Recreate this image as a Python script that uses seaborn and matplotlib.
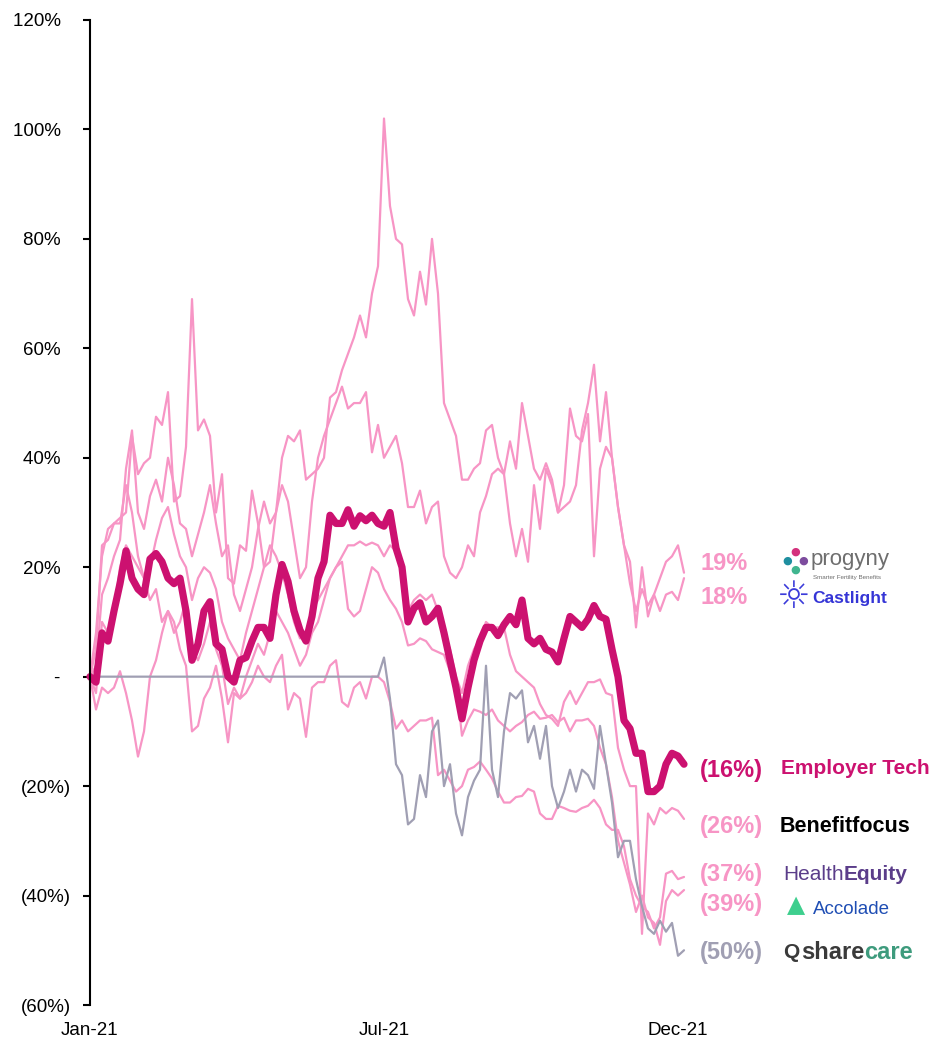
import pandas as pd
import matplotlib.pyplot as plt
import seaborn as sns

# % change since Jan-21 (about every 6 px along the x axis)
employer_tech = [0, -1, 8, 6.5, 12, 17, 23, 18, 16, 15,
                 21.5, 22.5, 21, 18, 17, 18, 12, 3, 6, 12,
                 13.7, 6, 5, 0, -1, 3, 3.5, 6.5, 9, 9,
                 7, 15, 20.5, 17.4, 12, 8.5, 6.5, 11, 18, 21,
                 29.5, 28, 28, 30.5, 27.5, 29.4, 28.5, 29.5, 28, 27.5,
                 30, 23.5, 20, 10, 12.5, 13.5, 10, 11, 12.5, 8,
                 3, -2, -7.7, -2, 3, 6.5, 9, 9, 7.5, 9.5,
                 11, 9.5, 14, 7, 6, 7, 5, 4.5, 2.7, 7,
                 11, 10, 9, 10.5, 13, 11, 10.5, 5, 0, -8,
                 -9.5, -14, -14, -21, -21, -20, -16, -14, -14.5, -16]

progyny = [0, 8, 22, 27, 28, 29, 30, 44, 37, 39,
           40, 47.5, 46, 52, 32, 33, 42, 69, 45, 47,
           44, 30, 37, 18, 17, 24, 23, 34, 28, 20,
           21, 30, 40, 44, 43, 45, 36, 37, 38, 40,
           51, 52, 56, 59, 62, 66, 62, 70, 75, 102,
           86, 80, 79, 69, 66, 74, 68, 80, 70, 50,
           47, 44, 36, 36, 38, 39, 45, 46, 40, 37,
           43, 38, 50, 44, 38, 36, 39, 36, 30, 35,
           49, 44, 43, 48, 22, 38, 42, 40, 31, 24,
           21, 9, 20, 11, 15, 18, 21, 22, 24, 19]

castlight = [0, 2, 15, 18, 22, 25, 38, 45, 30, 27,
             33, 36, 32, 40, 35, 28, 27, 22, 26, 30,
             35, 28, 22, 24, 15, 12, 16, 20, 27, 32,
             28, 30, 35, 32, 25, 18, 20, 32, 40, 44,
             47, 50, 53, 49, 50, 50, 52, 41, 46, 40,
             42, 44, 39, 31, 31, 34, 28, 31, 32, 22,
             19, 18, 20, 24, 22, 30, 33, 37, 38, 37,
             28, 22, 27, 21, 35, 27, 38, 35, 30, 31,
             32, 35, 45, 50, 57, 43, 52, 40, 31, 24,
             17, 12, 16, 13, 15, 12, 15, 15.5, 14, 18]

benefitfocus = [0, 5, 24, 25, 28, 28, 35, 30, 22, 18,
                20, 25, 29, 31, 26, 22, 20, 14, 18, 20,
                19, 16, 10, 7, 5, 3, 8, 12, 16, 20,
                24, 22, 19, 15, 10, 7, 8, 12, 14, 16,
                18, 20, 22, 24, 24, 24.7, 24, 24.5, 24, 22,
                24, 23, 20, 12, 14, 15, 14, 15, 12, 8,
                5, 0, -3, 2, 5, 7, 10, 9, 9, 9,
                4, 1, 0, -1, -2, -5, -7, -7.7, -9, -4.6,
                -2.6, -5, -3, -1, -1, -0.5, -3, -3.4, -13, -17,
                -20, -20, -47, -25, -27, -24, -25, -24, -24.5, -26]

healthequity = [0, -6, -2, -3, -2, 1, -3, -8, -14.6, -10,
                0, 3, 8, 12, 10, 5, 2, -10, -9, -4,
                -2, 2, -4, -12, -3, -4, -3, -1, 2, 0,
                -1, 2, 4, -6, -3, -4, -11, -2, -1, -1,
                2, 3, -4.6, -5.5, -2, -1, -4, 0, 0, -1,
                -4.6, -9.5, -8, -10, -9, -8, -8, -7.5, -18, -17,
                -19, -21, -20, -17, -16.5, -15.5, -17, -18.6, -21, -23,
                -23, -22, -21.8, -20.5, -21, -25, -26, -26, -23.6, -24,
                -24.5, -24.7, -24, -23.6, -22.5, -24, -27, -28, -28, -31,
                -37, -40, -42, -43, -46, -44, -36, -35.5, -37, -36.6]

accolade = [0, -3, 10, 8, 12, 20, 24, 22, 20, 18,
            14, 16, 10, 12, 8, 10, 14, 5, 3, 6,
            10, 5, 2, -5, -2, -4, 0, 3, 6, 4,
            8, 12, 10, 8, 5, 2, 4, 8, 10, 14,
            18, 20, 21, 12.4, 11, 12, 16, 20, 19, 16,
            14, 12.4, 10, 5.7, 6, 7, 6.5, 5, 4.5, 4,
            1, -1, -10.8, -8, -6, -6.4, -7, -6, -8, -9,
            -10, -9, -8.3, -7, -6.4, -7.7, -7.5, -7, -8.3, -7.5,
            -10, -8, -8, -7.7, -9, -13, -16, -22, -30, -34,
            -38, -43, -40, -44, -45, -49, -41, -39, -40, -39]

# flat until the SPAC deal closed in July
sharecare = [0, 0, 0, 0, 0, 0, 0, 0, 0, 0,
             0, 0, 0, 0, 0, 0, 0, 0, 0, 0,
             0, 0, 0, 0, 0, 0, 0, 0, 0, 0,
             0, 0, 0, 0, 0, 0, 0, 0, 0, 0,
             0, 0, 0, 0, 0, 0, 0, 0, 0, 3.5,
             -4, -16, -18, -27, -26, -18, -22, -10, -8, -20,
             -16, -25, -29, -22, -19, -17, 2, -17, -22, -10,
             -3, -4, -2.5, -12, -9, -15, -9, -20, -24, -21,
             -17, -21, -17, -18, -20.5, -9, -16, -23, -33, -30,
             -30, -37, -42, -46, -47, -44.6, -46.6, -45, -51, -50]

tick_labels = ['Jan-21', 'Jul-21', 'Dec-21']

PINK = '#F795C5'
GREY = '#A09FB3'
MAGENTA = '#CC1170'

dates = pd.date_range('2021-01-04', '2021-12-10', periods=len(employer_tech))
series = {'Progyny': progyny, 'Castlight': castlight, 'Benefitfocus': benefitfocus,
          'HealthEquity': healthequity, 'Accolade': accolade,
          'Sharecare': sharecare, 'Employer Tech': employer_tech}
df = pd.concat([pd.DataFrame({'date': dates, 'value': v, 'series': k})
                for k, v in series.items()], ignore_index=True)

order = list(series.keys())
palette = {k: PINK for k in order}
palette['Sharecare'] = GREY
palette['Employer Tech'] = MAGENTA
sizes = {k: 1.6 for k in order}
sizes['Employer Tech'] = 5.2

sns.set_style('white')
plt.rcParams['font.family'] = ['Liberation Sans', 'DejaVu Sans']

W, H = 937, 1039
fig = plt.figure(figsize=(W / 100, H / 100), dpi=100)
ax = fig.add_axes([90 / W, 1 - 1005 / H, (684 - 90) / W, (1005 - 20) / H])

sns.lineplot(data=df, x='date', y='value', hue='series', size='series',
             hue_order=order, size_order=order, palette=palette, sizes=sizes,
             estimator=None, legend=False, ax=ax,
             solid_joinstyle='round', solid_capstyle='round')
for line in ax.lines:
    line.set_clip_on(False)


def pct(v):
    if v == 0:
        return '-  '
    if v < 0:
        return f'({-v:.0f}%)'
    return f'{v:.0f}%  '


yt = list(range(-60, 121, 20))
ax.set_ylim(-60, 120)
ax.set_yticks(yt)
ax.set_yticklabels([pct(v) for v in yt])
ax.set_xlim(dates[0], dates[-1])
ax.set_xticks([dates[0], dates[49], dates[98]])
ax.set_xticklabels(tick_labels)
ax.set_xlabel('')
ax.set_ylabel('')
ax.tick_params(axis='x', length=0, pad=12, labelsize=13.5, colors='black')
ax.tick_params(axis='y', length=5, width=1.5, pad=8.5, labelsize=13.5,
               direction='out', left=True, colors='black')
sns.despine(ax=ax, bottom=True)
ax.spines['left'].set_color('black')
ax.spines['left'].set_linewidth(1.5)


def fx(x, y):
    return x / W, 1 - y / H


# end-of-period labels, taken from the last value of each series
end_rows = [('Progyny', 563, PINK), ('Castlight', 598, PINK),
            ('Employer Tech', 771, MAGENTA), ('Benefitfocus', 827, PINK),
            ('HealthEquity', 875, PINK), ('Accolade', 905, PINK),
            ('Sharecare', 953, GREY)]
for name, ypx, col in end_rows:
    last = series[name][-1]
    txt = f'({-last:.0f}%)' if last < 0 else f'{last:.0f}%'
    fig.text(*fx(700, ypx), txt, color=col, fontsize=17, fontweight='bold',
             ha='left', va='center')

# company "logos" as styled text
icon_font = ['DejaVu Sans']
for (dx, dy), c in zip([(795, 552), (787, 561), (803, 561), (795, 570)],
                       ['#D4317C', '#1F8FA0', '#7D4C9E', '#40B58F']):
    fig.text(*fx(dx, dy), '\u25cf', color=c, fontsize=8, ha='center', va='center',
             family=icon_font)
fig.text(*fx(811, 560), 'progyny', color='#6E6E6E', fontsize=16, ha='left', va='center')
fig.text(*fx(813, 578), 'Smarter Fertility Benefits', color='#6E6E6E', fontsize=4.5,
         ha='left', va='center')

fig.text(*fx(794, 598), '\u263c', color='#3B3BDA', fontsize=27, ha='center', va='center',
         family=icon_font)
fig.text(*fx(812, 598), 'Castlight', color='#3535D6', fontsize=12.5, fontweight='bold',
         ha='left', va='center')

fig.text(*fx(781, 769), 'Employer Tech', color=MAGENTA, fontsize=15, fontweight='bold',
         ha='left', va='center')

fig.text(*fx(780, 827), 'Benefitfocus', color='black', fontsize=15.5, fontweight='bold',
         ha='left', va='center')

t_health = fig.text(*fx(783, 880), 'Health', color='#5B3D8A', fontsize=15,
                    ha='left', va='baseline')
ax.annotate('Equity', xy=(1, 0), xycoords=t_health, color='#5B3D8A', fontsize=15,
            fontweight='bold', ha='left', va='bottom', annotation_clip=False)

fig.text(*fx(796, 905), '\u25b2', color='#3ECF8E', fontsize=17, ha='center', va='center',
         family=icon_font)
fig.text(*fx(813, 909), 'Accolade', color='#1F4EB4', fontsize=13.5, ha='left', va='center')

fig.text(*fx(791, 953), 'Q', color='#3A3A3A', fontsize=15, fontweight='bold',
         ha='center', va='center')
t_share = fig.text(*fx(801, 959), 'share', color='#3A3A3A', fontsize=17,
                   fontweight='bold', ha='left', va='baseline')
ax.annotate('care', xy=(1, 0), xycoords=t_share, color='#3E9B7D', fontsize=17,
            fontweight='bold', ha='left', va='bottom', annotation_clip=False)

plt.savefig('out.png', dpi=100)
